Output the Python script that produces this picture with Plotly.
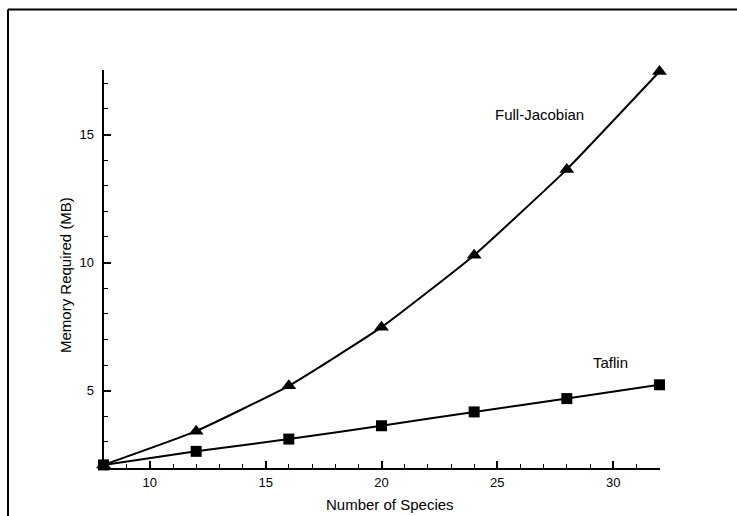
import plotly.graph_objects as go

# Memory required versus number of chemical species
species = [8, 12, 16, 20, 24, 28, 32]
full_jacobian_mb = [2.1, 3.42, 5.19, 7.48, 10.29, 13.64, 17.46]
taflin_mb = [2.1, 2.63, 3.11, 3.63, 4.17, 4.69, 5.23]

x_ticks = [10, 15, 20, 25, 30]
y_ticks = [5, 10, 15]

W, H = 737, 516
FONT = "Liberation Sans, Arial, Helvetica, sans-serif"

# plot-area edges in pixels
left_px, right_px = 103.5, 659.5
bottom_px, top_px = 467.5, 70.0

fig = go.Figure()

fig.add_trace(go.Scatter(
    x=species, y=full_jacobian_mb, mode="lines+markers", name="Full-Jacobian",
    line=dict(color="black", width=2, shape="spline", smoothing=0.4),
    marker=dict(symbol="triangle-up", size=13, color="black"),
    cliponaxis=False,
))
fig.add_trace(go.Scatter(
    x=species, y=taflin_mb, mode="lines+markers", name="Taflin",
    line=dict(color="black", width=2, shape="spline", smoothing=0.4),
    marker=dict(symbol="square", size=11, color="black"),
    cliponaxis=False,
))

axis_common = dict(
    showgrid=False, zeroline=False, showline=True, linecolor="black", linewidth=2,
    ticks="inside", ticklen=7, tickwidth=1.5, tickcolor="black",
    tickfont=dict(family=FONT, size=13, color="black"),
)

fig.update_xaxes(
    range=[8, 32], tickvals=x_ticks, ticklabelstandoff=2,
    domain=[left_px / W, right_px / W], anchor="y",
    minor=dict(dtick=1, tick0=0, ticks="inside", ticklen=4, tickwidth=1.2, tickcolor="black"),
    **axis_common,
)
fig.update_yaxes(
    range=[2, 17.52], tickvals=y_ticks, ticklabelstandoff=5,
    domain=[1 - bottom_px / H, 1 - top_px / H], anchor="x",
    minor=dict(dtick=1, tick0=0, ticks="inside", ticklen=4, tickwidth=1.2, tickcolor="black"),
    **axis_common,
)

annotations = [
    dict(text="Number of Species", xref="paper", yref="paper",
         x=390 / W, y=1 - 504 / H, xanchor="center", yanchor="middle",
         showarrow=False, font=dict(family=FONT, size=15, color="black")),
    dict(text="Memory Required (MB)", xref="paper", yref="paper",
         x=65 / W, y=1 - 275 / H, xanchor="center", yanchor="middle", textangle=-90,
         showarrow=False, font=dict(family=FONT, size=15, color="black")),
    dict(text="Full-Jacobian", xref="x", yref="y", x=24.81, y=15.79,
         xanchor="left", yanchor="middle", showarrow=False,
         font=dict(family=FONT, size=15, color="black")),
    dict(text="Taflin", xref="x", yref="y", x=29.03, y=6.09,
         xanchor="left", yanchor="middle", showarrow=False,
         font=dict(family=FONT, size=15, color="black")),
]

# open frame: top edge and left edge
shapes = [
    dict(type="line", xref="paper", yref="paper", x0=8 / W, x1=1.0,
         y0=1 - 9.5 / H, y1=1 - 9.5 / H, line=dict(color="black", width=2)),
    dict(type="line", xref="paper", yref="paper", x0=8 / W, x1=8 / W,
         y0=1 - 9.5 / H, y1=0, line=dict(color="black", width=2)),
]

fig.update_layout(
    width=W, height=H, margin=dict(l=0, r=0, t=0, b=0),
    paper_bgcolor="white", plot_bgcolor="white", showlegend=False,
    annotations=annotations, shapes=shapes,
)

fig.write_html("out.html")
